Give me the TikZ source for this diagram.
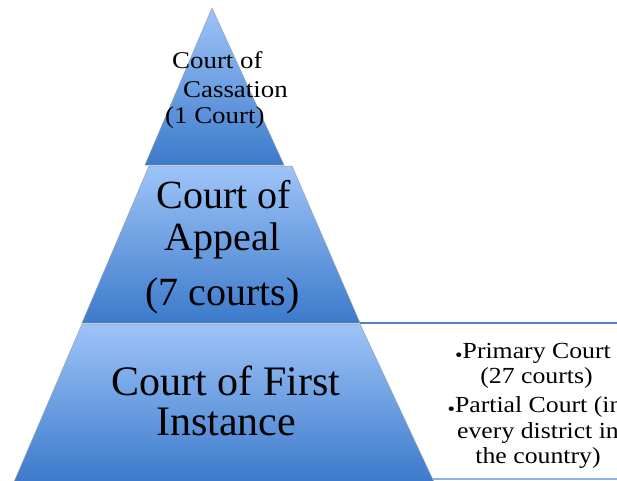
\documentclass[tikz,border=0pt]{standalone}
\usepackage{fontspec}
\setmainfont{Liberation Serif}
\newfontfamily\wideserif{Liberation Serif}[FakeStretch=1.12]
\definecolor{lightb}{RGB}{158,196,248}
\definecolor{darkb}{RGB}{60,122,203}
\definecolor{edgegray}{RGB}{150,160,175}
\definecolor{linedark}{RGB}{79,129,189}
\definecolor{linelight}{RGB}{141,179,226}
\begin{document}
\begin{tikzpicture}[x=1pt,y=1pt,
  layer/.style={top color=lightb, bottom color=darkb, draw=edgegray, line width=0.5pt},
  txtsmall/.style={font=\wideserif\fontsize{24}{28}\selectfont, inner sep=0pt, anchor=base west},
  txtbig/.style={font=\fontsize{40}{46}\selectfont, inner sep=0pt, anchor=base},
  txtfirst/.style={font=\fontsize{42}{48}\selectfont, inner sep=0pt, anchor=base},
  txtright/.style={font=\wideserif\fontsize{23}{27}\selectfont, inner sep=0pt, anchor=base},
  rule1/.style={draw=linedark, line width=1.5pt},
  rule2/.style={draw=linelight, line width=1.2pt}]
\useasboundingbox (0,-480) rectangle (617,0);
\newcommand{\bul}{\raisebox{-3pt}{\fontsize{19}{19}\selectfont\textbullet}}
\begin{scope}
\clip (0,-480) rectangle (617,0);
% corners
\coordinate (apex) at (212,-8);
\coordinate (t1l) at (145,-165);
\coordinate (t1r) at (284,-165);
\coordinate (t2tl) at (149,-166);
\coordinate (t2tr) at (292,-166);
\coordinate (t2bl) at (82,-323);
\coordinate (t2br) at (360,-323);
\coordinate (t3tl) at (82,-324);
\coordinate (t3tr) at (360,-324);
\coordinate (t3bl) at (14,-482);
\coordinate (t3br) at (434,-482);
\coordinate (r1end) at (617,-323);
\coordinate (r2start) at (433,-479);
\coordinate (r2end) at (617,-479);
% layers
\path[layer] (apex) -- (t1r) -- (t1l) -- cycle;
\path[layer] (t2tl) -- (t2tr) -- (t2br) -- (t2bl) -- cycle;
\path[layer] (t3tl) -- (t3tr) -- (t3br) -- (t3bl) -- cycle;
% rules of the side box
\draw[rule1] (t2br) -- (r1end);
\draw[rule2] (r2start) -- (r2end);
% top
\node[txtsmall] (c1) at (172,-68) {Court of};
\node[txtsmall] (c2) at (183,-97) {Cassation};
\node[txtsmall] (c3) at (165,-123) {(1 Court)};
% middle
\node[txtbig] (a1) at (224,-208) {Court of};
\node[txtbig] (a2) at (222.5,-250) {Appeal};
\node[txtbig] (a3) at (222.5,-305) {(7 courts)};
% bottom
\node[txtfirst] (f1) at (226,-395) {Court of First};
\node[txtfirst] (f2) at (226,-435) {Instance};
% side text
\node[txtright] (s1) at (533,-358) {\bul Primary Court};
\node[txtright] (s2) at (536.5,-383) {(27 courts)};
\node[txtright] (s3) at (535,-412) {\bul Partial Court (in};
\node[txtright] (s4) at (538,-438) {every district in};
\node[txtright] (s5) at (538,-463) {the country)};
\end{scope}
\end{tikzpicture}
\end{document}
